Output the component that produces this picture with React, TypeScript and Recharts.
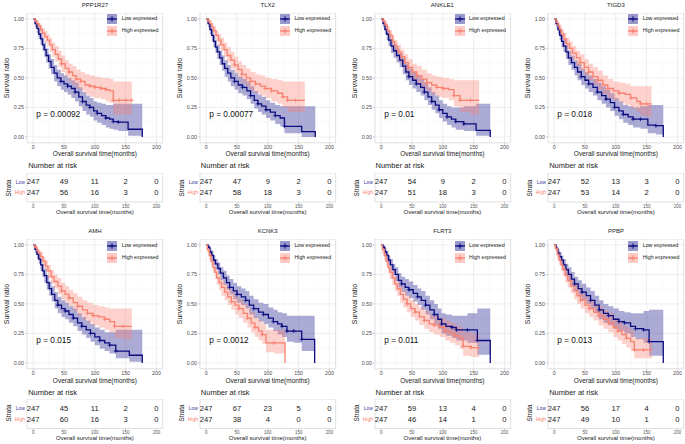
import React from 'react';
import {
  Area,
  CartesianGrid,
  ComposedChart,
  Line,
  ReferenceArea,
  ReferenceDot,
  Scatter,
  ScatterChart,
  XAxis,
  YAxis,
} from 'recharts';

// each step point: [months, survival, lower CI, upper CI, censored?]
const PPP1R27_LOW = [
  [0, 1, 1, 1], [3, 0.96, 0.93, 0.99], [6, 0.92, 0.88, 0.95], [9, 0.87, 0.83, 0.91], [12, 0.83, 0.78, 0.88],
  [15, 0.78, 0.73, 0.84], [18, 0.74, 0.68, 0.8], [21, 0.69, 0.63, 0.75], [25, 0.64, 0.58, 0.7], [29, 0.59, 0.53, 0.66],
  [34, 0.54, 0.47, 0.61], [39, 0.5, 0.43, 0.57], [45, 0.47, 0.4, 0.54, 1], [50, 0.45, 0.38, 0.52], [56, 0.43, 0.36, 0.5, 1],
  [62, 0.41, 0.33, 0.48], [68, 0.38, 0.3, 0.46, 1], [74, 0.34, 0.26, 0.42], [80, 0.3, 0.22, 0.38, 1], [86, 0.27, 0.19, 0.35],
  [92, 0.25, 0.17, 0.33, 1], [98, 0.22, 0.14, 0.3], [104, 0.2, 0.12, 0.29, 1], [111, 0.18, 0.1, 0.28], [118, 0.16, 0.08, 0.27, 1],
  [124, 0.15, 0.07, 0.27], [130, 0.13, 0.06, 0.28, 1], [138, 0.125, 0.05, 0.28, 1], [154, 0.065, 0.01, 0.28], [177, 0, 0, 0.28],
];
const PPP1R27_HIGH = [
  [0, 1, 1, 1], [3, 0.98, 0.96, 1], [6, 0.96, 0.93, 0.99], [9, 0.94, 0.9, 0.97], [12, 0.91, 0.87, 0.95],
  [15, 0.88, 0.84, 0.92], [19, 0.85, 0.8, 0.9], [23, 0.82, 0.77, 0.87], [27, 0.78, 0.72, 0.84], [31, 0.74, 0.68, 0.8],
  [36, 0.7, 0.64, 0.77], [41, 0.66, 0.59, 0.73], [46, 0.62, 0.55, 0.69, 1], [52, 0.58, 0.51, 0.65], [58, 0.55, 0.47, 0.62, 1],
  [64, 0.52, 0.44, 0.6], [70, 0.49, 0.41, 0.57, 1], [77, 0.47, 0.39, 0.55, 1], [84, 0.44, 0.36, 0.53], [92, 0.43, 0.34, 0.52, 1],
  [100, 0.42, 0.33, 0.51, 1], [110, 0.41, 0.32, 0.5, 1], [118, 0.4, 0.3, 0.5, 1], [124, 0.39, 0.29, 0.49], [130, 0.31, 0.19, 0.47, 1],
  [140, 0.31, 0.19, 0.47, 1], [150, 0.31, 0.19, 0.47, 1], [160, 0.31, 0.19, 0.47, 1],
];
const TLX2_LOW = [
  [0, 1, 1, 1], [3, 0.96, 0.93, 0.99], [6, 0.91, 0.87, 0.95], [9, 0.86, 0.81, 0.9], [12, 0.81, 0.76, 0.86],
  [15, 0.76, 0.71, 0.82], [18, 0.72, 0.66, 0.78], [22, 0.67, 0.61, 0.73], [26, 0.62, 0.56, 0.69], [30, 0.58, 0.51, 0.65],
  [35, 0.54, 0.47, 0.61], [40, 0.5, 0.43, 0.57], [46, 0.47, 0.4, 0.54, 1], [52, 0.44, 0.37, 0.51], [59, 0.42, 0.35, 0.49, 1],
  [66, 0.39, 0.32, 0.47], [72, 0.35, 0.28, 0.43, 1], [78, 0.31, 0.24, 0.39], [84, 0.28, 0.21, 0.36, 1], [90, 0.26, 0.19, 0.34],
  [97, 0.23, 0.16, 0.31, 1], [104, 0.21, 0.14, 0.29], [112, 0.18, 0.11, 0.27, 1], [120, 0.16, 0.09, 0.26], [127, 0.09, 0.03, 0.26, 1],
  [140, 0.09, 0.03, 0.26], [155, 0.045, 0, 0.26], [177, 0, 0, 0.26],
];
const TLX2_HIGH = [
  [0, 1, 1, 1], [3, 0.98, 0.96, 1], [6, 0.96, 0.93, 0.99], [9, 0.93, 0.89, 0.96], [12, 0.9, 0.86, 0.94],
  [16, 0.86, 0.81, 0.9], [20, 0.82, 0.77, 0.87], [24, 0.78, 0.73, 0.84], [29, 0.74, 0.68, 0.8], [34, 0.69, 0.63, 0.76],
  [40, 0.65, 0.58, 0.72], [46, 0.61, 0.54, 0.68, 1], [52, 0.57, 0.5, 0.64], [58, 0.53, 0.46, 0.61, 1], [65, 0.5, 0.42, 0.58],
  [72, 0.47, 0.39, 0.55, 1], [80, 0.45, 0.37, 0.53, 1], [88, 0.43, 0.35, 0.52], [96, 0.41, 0.33, 0.5, 1], [106, 0.39, 0.3, 0.49, 1],
  [116, 0.37, 0.28, 0.48], [124, 0.34, 0.25, 0.47, 1], [132, 0.31, 0.21, 0.47, 1], [145, 0.31, 0.21, 0.47, 1], [160, 0.31, 0.21, 0.47],
];
const ANKLE1_LOW = [
  [0, 1, 1, 1], [3, 0.96, 0.93, 0.99], [6, 0.91, 0.87, 0.95], [9, 0.87, 0.82, 0.91], [12, 0.82, 0.77, 0.87],
  [16, 0.77, 0.71, 0.83], [20, 0.73, 0.67, 0.79], [25, 0.69, 0.63, 0.75], [30, 0.65, 0.59, 0.71], [35, 0.6, 0.53, 0.67],
  [40, 0.55, 0.48, 0.62], [45, 0.51, 0.44, 0.58, 1], [51, 0.48, 0.41, 0.55], [57, 0.45, 0.38, 0.52, 1], [64, 0.42, 0.35, 0.49],
  [70, 0.38, 0.31, 0.46, 1], [76, 0.34, 0.27, 0.42], [82, 0.3, 0.23, 0.38, 1], [88, 0.27, 0.2, 0.35], [94, 0.23, 0.16, 0.31, 1],
  [100, 0.2, 0.13, 0.28], [107, 0.17, 0.1, 0.26, 1], [114, 0.15, 0.08, 0.25], [121, 0.13, 0.06, 0.25, 1], [134, 0.11, 0.05, 0.26, 1],
  [154, 0.055, 0.01, 0.28], [177, 0, 0, 0.28],
];
const ANKLE1_HIGH = [
  [0, 1, 1, 1], [3, 0.98, 0.96, 1], [6, 0.95, 0.92, 0.98], [10, 0.9, 0.86, 0.94], [14, 0.86, 0.81, 0.9],
  [18, 0.81, 0.76, 0.86], [22, 0.77, 0.71, 0.82], [27, 0.72, 0.66, 0.78], [32, 0.68, 0.62, 0.74], [38, 0.63, 0.56, 0.7],
  [44, 0.59, 0.52, 0.66, 1], [51, 0.55, 0.48, 0.62], [58, 0.52, 0.45, 0.6, 1], [66, 0.49, 0.41, 0.57], [74, 0.46, 0.38, 0.54, 1],
  [82, 0.44, 0.36, 0.52], [90, 0.42, 0.34, 0.51, 1], [100, 0.41, 0.33, 0.5, 1], [110, 0.4, 0.31, 0.49], [118, 0.35, 0.26, 0.48, 1],
  [128, 0.31, 0.21, 0.48, 1], [145, 0.31, 0.19, 0.48, 1], [159, 0.31, 0.19, 0.48],
];
const TIGD3_LOW = [
  [0, 1, 1, 1], [3, 0.96, 0.93, 0.99], [6, 0.91, 0.87, 0.95], [9, 0.86, 0.82, 0.9], [12, 0.81, 0.76, 0.86],
  [15, 0.77, 0.72, 0.83], [19, 0.72, 0.66, 0.78], [23, 0.67, 0.61, 0.73], [28, 0.63, 0.57, 0.69], [33, 0.59, 0.52, 0.65],
  [38, 0.55, 0.48, 0.62], [44, 0.51, 0.44, 0.58, 1], [50, 0.48, 0.41, 0.55], [56, 0.45, 0.38, 0.52, 1], [63, 0.42, 0.35, 0.49],
  [70, 0.38, 0.31, 0.46, 1], [77, 0.35, 0.28, 0.43], [84, 0.32, 0.25, 0.4, 1], [91, 0.29, 0.22, 0.37], [98, 0.25, 0.18, 0.33, 1],
  [105, 0.22, 0.15, 0.3], [112, 0.19, 0.12, 0.27, 1], [120, 0.17, 0.1, 0.26], [128, 0.15, 0.08, 0.25, 1], [140, 0.15, 0.07, 0.26, 1],
  [152, 0.1, 0.03, 0.27], [165, 0.095, 0.02, 0.27, 1], [177, 0, 0, 0.27],
];
const TIGD3_HIGH = [
  [0, 1, 1, 1], [3, 0.97, 0.95, 0.99], [6, 0.94, 0.91, 0.97], [9, 0.91, 0.87, 0.95], [12, 0.87, 0.83, 0.91],
  [16, 0.83, 0.78, 0.88], [20, 0.79, 0.74, 0.84], [25, 0.75, 0.69, 0.81], [30, 0.71, 0.65, 0.77], [36, 0.67, 0.6, 0.73],
  [42, 0.63, 0.56, 0.7, 1], [49, 0.59, 0.52, 0.66], [56, 0.55, 0.48, 0.62, 1], [63, 0.51, 0.44, 0.59], [71, 0.48, 0.4, 0.56, 1],
  [79, 0.44, 0.36, 0.52], [87, 0.41, 0.33, 0.49, 1], [96, 0.39, 0.31, 0.47], [105, 0.37, 0.29, 0.46, 1], [115, 0.36, 0.27, 0.45],
  [124, 0.33, 0.24, 0.43, 1], [134, 0.3, 0.21, 0.43], [140, 0.28, 0.18, 0.43, 1], [150, 0.28, 0.17, 0.43, 1], [158, 0.28, 0.17, 0.43],
];
const AMH_LOW = [
  [0, 1, 1, 1], [3, 0.96, 0.93, 0.99], [6, 0.92, 0.88, 0.95], [9, 0.88, 0.84, 0.92], [12, 0.83, 0.78, 0.88],
  [15, 0.78, 0.73, 0.84], [18, 0.74, 0.68, 0.8], [22, 0.68, 0.62, 0.74], [26, 0.63, 0.57, 0.69], [30, 0.58, 0.52, 0.65],
  [35, 0.53, 0.46, 0.6], [40, 0.49, 0.42, 0.56, 1], [46, 0.46, 0.39, 0.53], [52, 0.44, 0.37, 0.51, 1], [58, 0.41, 0.34, 0.48],
  [65, 0.38, 0.31, 0.46, 1], [72, 0.34, 0.27, 0.42], [79, 0.31, 0.24, 0.39, 1], [86, 0.28, 0.21, 0.36], [93, 0.25, 0.18, 0.33, 1],
  [100, 0.22, 0.15, 0.3], [108, 0.19, 0.12, 0.28, 1], [116, 0.17, 0.1, 0.26], [124, 0.15, 0.08, 0.26, 1], [134, 0.1, 0.04, 0.28, 1],
  [156, 0.065, 0.01, 0.28], [177, 0, 0, 0.28],
];
const AMH_HIGH = [
  [0, 1, 1, 1], [3, 0.98, 0.96, 1], [6, 0.95, 0.92, 0.98], [9, 0.93, 0.89, 0.96], [12, 0.9, 0.86, 0.94],
  [16, 0.86, 0.81, 0.9], [20, 0.82, 0.77, 0.87], [24, 0.78, 0.72, 0.83], [29, 0.73, 0.67, 0.79], [34, 0.69, 0.63, 0.75],
  [40, 0.65, 0.58, 0.72], [46, 0.61, 0.54, 0.68, 1], [52, 0.58, 0.51, 0.65], [58, 0.55, 0.48, 0.62, 1], [65, 0.51, 0.44, 0.59],
  [72, 0.48, 0.4, 0.56, 1], [80, 0.45, 0.37, 0.53], [88, 0.42, 0.34, 0.51, 1], [97, 0.4, 0.32, 0.49, 1], [106, 0.39, 0.3, 0.48],
  [116, 0.37, 0.28, 0.47, 1], [124, 0.35, 0.26, 0.46], [132, 0.31, 0.21, 0.46, 1], [146, 0.31, 0.2, 0.46, 1], [160, 0.31, 0.2, 0.46],
];
const KCNK3_LOW = [
  [0, 1, 1, 1], [3, 0.98, 0.96, 1], [6, 0.94, 0.91, 0.97], [9, 0.91, 0.87, 0.95], [12, 0.87, 0.83, 0.91],
  [15, 0.84, 0.79, 0.88], [19, 0.8, 0.75, 0.85], [23, 0.76, 0.7, 0.81], [28, 0.72, 0.66, 0.78], [33, 0.68, 0.62, 0.74],
  [38, 0.64, 0.58, 0.71, 1], [44, 0.61, 0.54, 0.68], [50, 0.58, 0.51, 0.65, 1], [57, 0.56, 0.49, 0.63], [64, 0.53, 0.46, 0.61, 1],
  [70, 0.49, 0.41, 0.57], [77, 0.46, 0.38, 0.54, 1], [85, 0.43, 0.35, 0.51], [93, 0.41, 0.33, 0.5, 1], [101, 0.38, 0.3, 0.47],
  [109, 0.35, 0.27, 0.45, 1], [116, 0.33, 0.24, 0.43], [123, 0.31, 0.22, 0.42, 1], [131, 0.27, 0.18, 0.4, 1], [142, 0.27, 0.17, 0.4, 1],
  [155, 0.2, 0.1, 0.4, 1], [166, 0.2, 0.1, 0.4], [176, 0, 0, 0.4],
];
const KCNK3_HIGH = [
  [0, 1, 1, 1], [2, 0.96, 0.93, 0.99], [5, 0.91, 0.87, 0.95], [8, 0.86, 0.82, 0.9], [11, 0.81, 0.76, 0.86],
  [14, 0.77, 0.71, 0.82], [17, 0.72, 0.66, 0.78], [21, 0.68, 0.62, 0.74], [25, 0.64, 0.57, 0.7], [30, 0.6, 0.53, 0.67],
  [35, 0.56, 0.49, 0.63], [41, 0.52, 0.45, 0.6, 1], [47, 0.49, 0.41, 0.56], [53, 0.46, 0.38, 0.53, 1], [60, 0.42, 0.34, 0.5],
  [67, 0.38, 0.3, 0.46, 1], [73, 0.34, 0.26, 0.43], [79, 0.3, 0.22, 0.39, 1], [85, 0.27, 0.19, 0.36], [91, 0.24, 0.16, 0.33, 1],
  [97, 0.17, 0.09, 0.28], [110, 0.17, 0.08, 0.28, 1], [128, 0, 0, 0.28],
];
const FLRT3_LOW = [
  [0, 1, 1, 1], [3, 0.98, 0.96, 1], [6, 0.94, 0.91, 0.97], [9, 0.91, 0.87, 0.95], [12, 0.87, 0.83, 0.91],
  [15, 0.83, 0.78, 0.88], [19, 0.79, 0.74, 0.84], [23, 0.75, 0.69, 0.81], [28, 0.7, 0.64, 0.76], [33, 0.67, 0.6, 0.73, 1],
  [39, 0.64, 0.57, 0.71], [45, 0.62, 0.55, 0.69, 1], [52, 0.59, 0.52, 0.66], [59, 0.56, 0.49, 0.63, 1], [65, 0.53, 0.45, 0.61],
  [72, 0.49, 0.41, 0.57, 1], [79, 0.45, 0.37, 0.53], [86, 0.41, 0.33, 0.5, 1], [92, 0.37, 0.29, 0.46], [98, 0.33, 0.25, 0.42, 1],
  [105, 0.31, 0.23, 0.41], [115, 0.3, 0.21, 0.4, 1], [122, 0.28, 0.19, 0.4, 1], [140, 0.28, 0.17, 0.42, 1], [156, 0.19, 0.07, 0.46, 1],
  [166, 0.19, 0.07, 0.46], [177, 0, 0, 0.46],
];
const FLRT3_HIGH = [
  [0, 1, 1, 1], [2, 0.96, 0.93, 0.99], [5, 0.91, 0.87, 0.95], [8, 0.86, 0.82, 0.9], [11, 0.81, 0.76, 0.86],
  [14, 0.77, 0.71, 0.82], [18, 0.72, 0.66, 0.78], [22, 0.67, 0.61, 0.73], [26, 0.63, 0.57, 0.69], [31, 0.58, 0.51, 0.65],
  [36, 0.54, 0.47, 0.61], [42, 0.5, 0.43, 0.57, 1], [48, 0.46, 0.39, 0.53], [55, 0.43, 0.36, 0.5, 1], [62, 0.39, 0.32, 0.47],
  [70, 0.36, 0.29, 0.44, 1], [78, 0.33, 0.26, 0.41], [86, 0.32, 0.24, 0.4, 1], [95, 0.3, 0.22, 0.38], [104, 0.27, 0.19, 0.36, 1],
  [112, 0.25, 0.17, 0.34], [120, 0.23, 0.15, 0.32, 1], [128, 0.21, 0.12, 0.3], [133, 0.14, 0.06, 0.26, 1], [146, 0.13, 0.05, 0.25, 1],
  [159, 0.13, 0.05, 0.25],
];
const PPBP_LOW = [
  [0, 1, 1, 1], [3, 0.97, 0.95, 0.99], [6, 0.93, 0.9, 0.96], [9, 0.9, 0.86, 0.94], [12, 0.87, 0.83, 0.91],
  [15, 0.83, 0.78, 0.88], [19, 0.79, 0.74, 0.84], [23, 0.75, 0.69, 0.81], [28, 0.71, 0.65, 0.77], [33, 0.67, 0.61, 0.73, 1],
  [39, 0.63, 0.56, 0.7], [45, 0.6, 0.53, 0.67, 1], [52, 0.57, 0.5, 0.64], [59, 0.53, 0.46, 0.61, 1], [66, 0.49, 0.42, 0.57],
  [73, 0.45, 0.37, 0.53, 1], [80, 0.42, 0.34, 0.5], [88, 0.4, 0.32, 0.48, 1], [96, 0.37, 0.29, 0.46], [105, 0.35, 0.27, 0.44, 1],
  [114, 0.34, 0.25, 0.43, 1], [124, 0.31, 0.22, 0.42], [132, 0.29, 0.2, 0.42, 1], [145, 0.28, 0.17, 0.44, 1], [154, 0.18, 0.06, 0.45, 1],
  [166, 0.18, 0.06, 0.45], [177, 0, 0, 0.45],
];
const PPBP_HIGH = [
  [0, 1, 1, 1], [2, 0.97, 0.95, 0.99], [5, 0.92, 0.88, 0.95], [8, 0.87, 0.83, 0.91], [11, 0.83, 0.78, 0.87],
  [14, 0.79, 0.74, 0.84], [18, 0.74, 0.68, 0.8], [22, 0.7, 0.64, 0.76], [27, 0.65, 0.59, 0.71], [32, 0.61, 0.54, 0.67],
  [37, 0.57, 0.5, 0.64], [43, 0.53, 0.46, 0.6, 1], [50, 0.49, 0.42, 0.56], [57, 0.46, 0.39, 0.53, 1], [64, 0.43, 0.36, 0.5],
  [72, 0.4, 0.32, 0.48, 1], [80, 0.37, 0.29, 0.45], [88, 0.34, 0.26, 0.42, 1], [96, 0.3, 0.22, 0.38], [103, 0.27, 0.19, 0.35, 1],
  [110, 0.24, 0.16, 0.32], [117, 0.21, 0.13, 0.3, 1], [124, 0.18, 0.1, 0.27], [130, 0.11, 0.04, 0.21, 1], [145, 0.11, 0.04, 0.21, 1],
  [159, 0.11, 0.04, 0.21],
];

const GENES = ['PPP1R27', 'TLX2', 'ANKLE1', 'TIGD3', 'AMH', 'KCNK3', 'FLRT3', 'PPBP'];
const P_VALUES = ['0.00092', '0.00077', '0.01', '0.018', '0.015', '0.0012', '0.011', '0.013'];
const CURVES = [
  [PPP1R27_LOW, PPP1R27_HIGH],
  [TLX2_LOW, TLX2_HIGH],
  [ANKLE1_LOW, ANKLE1_HIGH],
  [TIGD3_LOW, TIGD3_HIGH],
  [AMH_LOW, AMH_HIGH],
  [KCNK3_LOW, KCNK3_HIGH],
  [FLRT3_LOW, FLRT3_HIGH],
  [PPBP_LOW, PPBP_HIGH],
];
const RISK_TIMES = [0, 50, 100, 150, 200];
const LOW_AT_RISK = [
  [247, 49, 11, 2, 0], [247, 47, 9, 2, 0], [247, 54, 9, 2, 0], [247, 52, 13, 3, 0],
  [247, 45, 11, 2, 0], [247, 67, 23, 5, 0], [247, 59, 13, 4, 0], [247, 56, 17, 4, 0],
];
const HIGH_AT_RISK = [
  [247, 56, 16, 3, 0], [247, 58, 18, 3, 0], [247, 51, 18, 3, 0], [247, 53, 14, 2, 0],
  [247, 60, 16, 3, 0], [247, 38, 4, 0, 0], [247, 46, 14, 1, 0], [247, 49, 10, 1, 0],
];
const SURV_TICKS = [0, 0.25, 0.5, 0.75, 1];
const SURV_MINOR = [0.125, 0.375, 0.625, 0.875];
const TIME_MINOR = [25, 75, 125, 175];

const FONT = '"Liberation Sans", Arial, Helvetica, sans-serif';
const LOW_LINE = '#0c0c80';
const HIGH_LINE = '#f7806f';
const LOW_FILL = '#000080';
const HIGH_FILL = '#fa8072';

// layout (pixels)
const PX_MONTH = 0.6165;
const PX_UNIT = 118;
const COL_X0 = [33.3, 206, 380.7, 554.3];
const ROWS = [
  { y1: 18.5, title: 5, xTitle: 153.5, nar: 166, tTop: 173, tBot: 202, tTitle: 211.5 },
  { y1: 245, title: 231, xTitle: 380.5, nar: 392.5, tTop: 398.5, tBot: 428, tTitle: 437.5 },
];
const AXIS_W = 24;
const X_AXIS_H = 9;

const toRows = (pts: number[][]) =>
  pts.map(([t, s, lo, hi, c]) => ({ t, s, ci: [lo, hi], c: c || 0 }));

const Txt = ({ x, y, size, color = '#1a1a1a', rotate = false, align = 'center', children }: any) => {
  const tx = align === 'left' ? '0' : align === 'right' ? '-100%' : '-50%';
  return (
    <div
      style={{
        position: 'absolute',
        left: x,
        top: y,
        fontSize: size,
        color,
        lineHeight: 1,
        whiteSpace: 'nowrap',
        transform: `translate(${tx},-50%)${rotate ? ' rotate(-90deg)' : ''}`,
      }}
    >
      {children}
    </div>
  );
};

const censorDot = (color: string) => (props: any) => {
  const { cx, cy, payload, index } = props;
  if (!payload || !payload.c || cx == null) return <g key={`n${index}`} />;
  return (
    <path
      key={`c${index}`}
      d={`M${cx - 2},${cy}H${cx + 2}M${cx},${cy - 2}V${cy + 2}`}
      stroke={color}
      strokeWidth={0.8}
      fill="none"
    />
  );
};

const KeyGlyph = ({ line, fill }: { line: string; fill: string }) => (
  <svg width={10} height={10} style={{ display: 'block' }}>
    <rect x={0} y={0} width={10} height={10} fill={fill} fillOpacity={0.4} />
    <line x1={0} y1={5} x2={10} y2={5} stroke={line} strokeWidth={1.2} />
    <path d="M5,2.3V7.7M2.3,5H7.7" stroke={line} strokeWidth={1} />
  </svg>
);

const KmPanel = ({ index }: { index: number }) => {
  const col = index % 4;
  const r = ROWS[Math.floor(index / 4)];
  const x0 = COL_X0[col];
  const L = x0 - 10 * PX_MONTH;
  const W = 220 * PX_MONTH;
  const T = r.y1 - 0.05 * PX_UNIT;
  const H = 1.1 * PX_UNIT;
  const low = toRows(CURVES[index][0]);
  const high = toRows(CURVES[index][1]);
  const tableH = r.tBot - r.tTop;
  const riskRows = [
    ...RISK_TIMES.map((t, i) => ({ t, row: 2, n: LOW_AT_RISK[index][i] })),
    ...RISK_TIMES.map((t, i) => ({ t, row: 1, n: HIGH_AT_RISK[index][i] })),
  ];
  const tickStyle = { fontSize: 5.3, fill: '#4d4d4d', fontFamily: FONT };

  return (
    <>
      <Txt x={L + W / 2} y={r.title} size={6}>{GENES[index]}</Txt>
      <Txt x={x0 - 27} y={T + H / 2} size={7} rotate>Survival ratio</Txt>
      <div style={{ position: 'absolute', left: L - AXIS_W, top: T }}>
        <ComposedChart width={W + AXIS_W + 2} height={H + X_AXIS_H} margin={{ top: 0, right: 2, bottom: 0, left: 0 }}>
          <CartesianGrid stroke="#f0f0f0" strokeWidth={0.4} verticalValues={TIME_MINOR} horizontalValues={SURV_MINOR} />
          <CartesianGrid stroke="#e2e2e2" strokeWidth={0.6} verticalValues={RISK_TIMES} horizontalValues={SURV_TICKS} />
          <XAxis
            type="number"
            dataKey="t"
            domain={[-10, 210]}
            ticks={RISK_TIMES}
            interval={0}
            allowDataOverflow
            height={X_AXIS_H}
            axisLine={false}
            tickLine={{ stroke: '#b3b3b3', strokeWidth: 0.6 }}
            tickSize={2}
            tickMargin={0}
            tick={tickStyle}
          />
          <YAxis
            type="number"
            domain={[-0.05, 1.05]}
            ticks={SURV_TICKS}
            interval={0}
            allowDataOverflow
            width={AXIS_W}
            axisLine={false}
            tickLine={{ stroke: '#b3b3b3', strokeWidth: 0.6 }}
            tickSize={2}
            tickMargin={1}
            tick={tickStyle}
            tickFormatter={(v: number) => v.toFixed(2)}
          />
          <ReferenceArea x1={-10} x2={210} y1={-0.05} y2={1.05} fill="none" stroke="#cccccc" strokeWidth={0.6} />
          <Area data={low} dataKey="ci" type="stepAfter" stroke="none" fill={LOW_FILL} fillOpacity={0.33} isAnimationActive={false} />
          <Area data={high} dataKey="ci" type="stepAfter" stroke="none" fill={HIGH_FILL} fillOpacity={0.36} isAnimationActive={false} />
          <Line data={low} dataKey="s" type="stepAfter" stroke={LOW_LINE} strokeWidth={1.3} dot={censorDot(LOW_LINE)} activeDot={false} isAnimationActive={false} />
          <Line data={high} dataKey="s" type="stepAfter" stroke={HIGH_LINE} strokeWidth={1.3} dot={censorDot(HIGH_LINE)} activeDot={false} isAnimationActive={false} />
          <ReferenceDot
            x={5}
            y={0.19}
            r={0}
            fill="none"
            stroke="none"
            label={{ value: `p = ${P_VALUES[index]}`, position: 'right', offset: 0, fontSize: 8.3, fill: '#111', fontFamily: FONT }}
          />
        </ComposedChart>
      </div>
      {[
        { name: 'Low expressed', line: LOW_LINE, fill: LOW_FILL, dy: -4.3 },
        { name: 'High expressed', line: HIGH_LINE, fill: HIGH_FILL, dy: 7.5 },
      ].map((k) => (
        <React.Fragment key={k.name}>
          <div style={{ position: 'absolute', left: x0 + 74, top: r.y1 + k.dy }}>
            <KeyGlyph line={k.line} fill={k.fill} />
          </div>
          <Txt x={x0 + 88.4} y={r.y1 + k.dy + 5} size={5.3} align="left">{k.name}</Txt>
        </React.Fragment>
      ))}
      <Txt x={L + W / 2} y={r.xTitle} size={6.5}>Overall survival time(months)</Txt>

      <Txt x={L + 1} y={r.nar} size={7.5} align="left">Number at risk</Txt>
      <Txt x={x0 - 24} y={(r.tTop + r.tBot) / 2} size={6.3} rotate>Strata</Txt>
      <div style={{ position: 'absolute', left: L - 16, top: r.tTop }}>
        <ScatterChart width={W + 18} height={tableH + 8} margin={{ top: 0, right: 2, bottom: 0, left: 0 }}>
          <XAxis
            type="number"
            dataKey="t"
            domain={[-10, 210]}
            ticks={RISK_TIMES}
            interval={0}
            allowDataOverflow
            height={8}
            axisLine={false}
            tickLine={{ stroke: '#b3b3b3', strokeWidth: 0.6 }}
            tickSize={2}
            tickMargin={0.5}
            tick={{ fontSize: 4.5, fill: '#555', fontFamily: FONT }}
          />
          <YAxis
            type="number"
            dataKey="row"
            domain={[0.15, 2.8]}
            ticks={[1, 2]}
            interval={0}
            allowDataOverflow
            width={16}
            axisLine={false}
            tickLine={false}
            tickSize={0}
            tickMargin={2}
            tick={(p: any) => (
              <text
                key={`s${p.payload.value}`}
                x={p.x}
                y={p.y}
                dy="0.35em"
                textAnchor="end"
                fontSize={5}
                fontFamily={FONT}
                fill={p.payload.value === 2 ? '#3c3ca0' : '#f7806f'}
              >
                {p.payload.value === 2 ? 'Low' : 'High'}
              </text>
            )}
          />
          <ReferenceArea x1={-10} x2={210} y1={0.15} y2={2.8} fill="none" stroke="#cccccc" strokeWidth={0.6} />
          <Scatter
            data={riskRows}
            isAnimationActive={false}
            shape={(p: any) => (
              <text x={p.cx} y={p.cy} dy="0.35em" textAnchor="middle" fontSize={7.6} fontFamily={FONT} fill="#1a1a1a">
                {p.payload.n}
              </text>
            )}
          />
        </ScatterChart>
      </div>
      <Txt x={L + W / 2} y={r.tTitle} size={6}>Overall survival time(months)</Txt>
    </>
  );
};

export default function App() {
  return (
    <div
      style={{
        position: 'absolute',
        left: 0,
        top: 0,
        width: 685,
        height: 444,
        overflow: 'hidden',
        background: '#fff',
        fontFamily: FONT,
      }}
    >
      {GENES.map((g, i) => (
        <KmPanel key={g} index={i} />
      ))}
    </div>
  );
}
